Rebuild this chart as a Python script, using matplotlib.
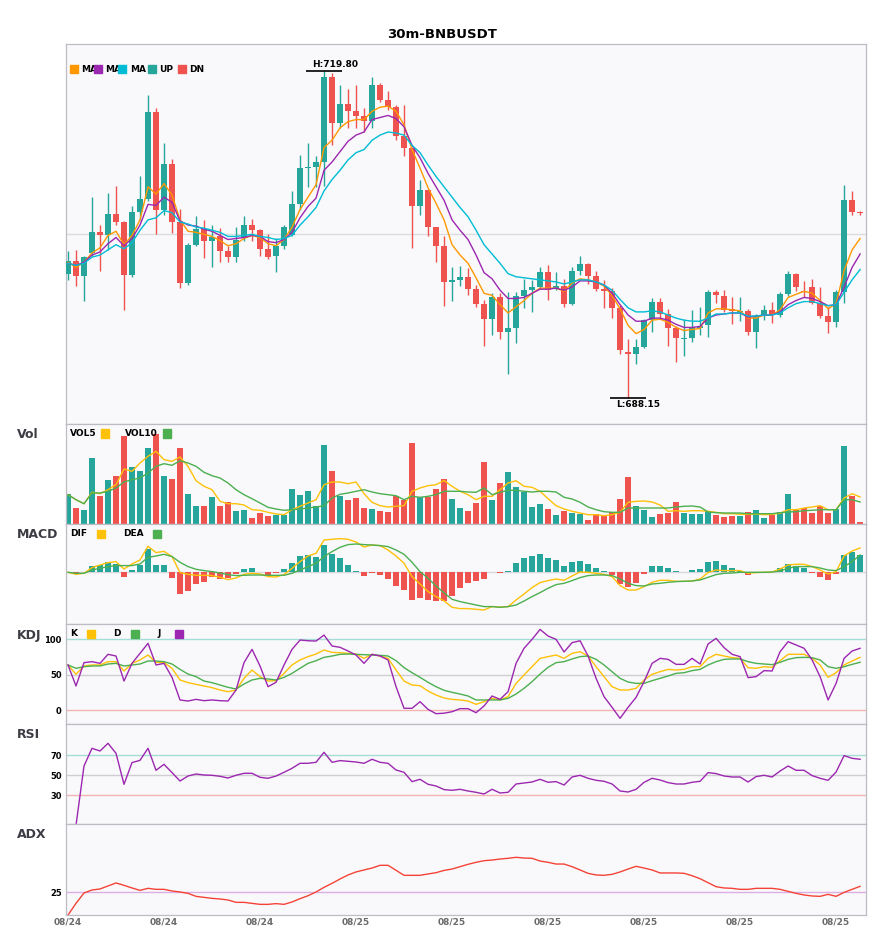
import matplotlib
matplotlib.use("Agg")
import matplotlib.pyplot as plt
from matplotlib.patches import Rectangle
import numpy as np

W, H = 885, 950
UP_C = "#26a69a"
DN_C = "#ef5350"

# ---- 30m candles ----
opens = [700.2, 701.4, 700.0, 702.2, 704.2, 703.9, 706.0, 705.2, 700.1, 706.2,
         707.4, 715.8, 706.4, 710.8, 705.2, 699.3, 703.0, 704.5, 703.4, 703.8,
         702.4, 701.8, 703.6, 704.9, 704.4, 702.6, 701.9, 702.9, 703.9, 706.9,
         710.4, 710.5, 711.0, 719.2, 714.8, 716.6, 715.9, 715.4, 715.0, 718.4,
         717.0, 716.3, 713.5, 712.4, 706.7, 708.3, 704.7, 702.9, 699.4, 699.6,
         699.9, 698.7, 697.3, 695.8, 697.9, 694.6, 694.9, 698.0, 698.6, 698.9,
         700.4, 698.7, 699.0, 697.3, 700.5, 701.1, 700.0, 698.7, 698.5, 696.9,
         692.6, 692.4, 693.1, 695.7, 697.5, 696.3, 694.9, 693.9, 694.0, 694.9,
         695.2, 698.4, 698.0, 696.8, 696.5, 696.6, 694.6, 696.1, 696.7, 696.2,
         698.2, 700.2, 698.5, 698.9, 697.4, 696.1, 695.5, 698.4, 707.3, 706.2]
highs = [702.4, 702.5, 701.9, 707.6, 704.9, 708.0, 708.7, 705.3, 706.7, 709.6,
         717.5, 716.2, 712.8, 711.3, 706.5, 703.2, 705.8, 705.4, 704.9, 704.6,
         702.9, 704.7, 705.8, 705.5, 704.5, 704.0, 703.6, 704.9, 708.2, 711.7,
         712.8, 711.6, 719.8, 719.6, 718.4, 718.1, 718.4, 716.2, 719.2, 718.6,
         717.9, 716.5, 716.5, 712.4, 709.3, 708.3, 704.7, 703.8, 700.8, 700.9,
         700.7, 699.1, 697.7, 698.3, 698.3, 698.4, 698.4, 699.7, 699.6, 700.8,
         701.0, 700.4, 699.7, 700.8, 701.9, 701.2, 700.5, 699.6, 698.8, 697.2,
         693.9, 693.9, 695.8, 697.8, 697.8, 696.8, 695.1, 695.8, 696.7, 697.0,
         698.6, 698.6, 698.6, 697.9, 697.9, 696.8, 696.3, 697.2, 697.5, 698.4,
         700.5, 700.3, 699.5, 699.7, 698.9, 697.0, 698.6, 708.8, 708.2, 706.3]
lows = [699.6, 699.0, 697.6, 701.9, 700.5, 702.5, 704.9, 696.7, 699.9, 705.4,
        707.2, 704.0, 705.9, 704.1, 698.8, 699.1, 702.9, 701.7, 700.8, 701.3,
        701.3, 701.3, 703.4, 703.4, 701.9, 701.6, 700.4, 702.6, 703.8, 706.4,
        708.6, 708.6, 708.7, 712.6, 714.3, 714.3, 714.3, 713.9, 714.3, 716.8,
        716.0, 713.1, 711.6, 702.7, 705.9, 703.8, 701.3, 697.1, 697.6, 699.0,
        698.1, 697.0, 693.2, 694.3, 693.9, 690.5, 693.5, 696.9, 696.5, 698.7,
        697.7, 698.6, 697.0, 697.2, 700.1, 699.2, 698.5, 696.9, 695.9, 692.4,
        688.15, 691.5, 693.0, 694.6, 695.8, 693.2, 691.7, 692.2, 693.6, 694.3,
        694.1, 697.4, 696.5, 695.3, 695.6, 694.3, 693.0, 695.7, 695.4, 696.0,
        698.0, 698.5, 697.9, 697.3, 695.9, 694.5, 695.0, 697.4, 705.9, 705.9]
closes = [701.4, 700.0, 701.8, 704.2, 703.9, 706.0, 705.2, 700.1, 706.2, 707.4,
          715.8, 706.4, 710.8, 705.2, 699.3, 703.0, 704.5, 703.4, 703.7, 702.4,
          701.8, 703.5, 704.9, 704.4, 702.6, 701.8, 702.9, 704.7, 706.9, 710.4,
          710.5, 711.0, 719.2, 714.8, 716.6, 715.9, 715.4, 715.0, 718.4, 717.0,
          716.3, 713.5, 712.4, 706.7, 708.3, 704.7, 702.9, 699.4, 699.6, 699.9,
          698.7, 697.3, 695.8, 697.9, 694.6, 694.9, 698.0, 698.6, 698.9, 700.4,
          698.6, 699.0, 697.3, 700.5, 701.1, 700.0, 698.7, 698.5, 696.9, 692.8,
          692.4, 693.1, 695.7, 697.5, 696.3, 694.9, 694.0, 694.0, 695.0, 695.1,
          698.4, 698.1, 696.7, 696.6, 696.6, 694.6, 696.1, 696.7, 696.2, 698.2,
          700.2, 698.9, 698.4, 697.4, 696.1, 695.5, 698.4, 707.3, 706.2, 706.1]

ma5 = [701.3, 700.8, 701.3, 702.2, 702.7, 703.9, 704.3, 703.0, 703.9, 705.4,
       708.6, 707.9, 708.9, 707.8, 705.4, 704.3, 704.2, 704.0, 703.8, 703.4,
       702.9, 703.1, 703.6, 703.9, 703.7, 703.1, 702.9, 703.5, 704.7, 706.4,
       707.6, 708.8, 712.4, 713.1, 714.3, 714.9, 715.1, 715.1, 715.9, 716.3,
       716.4, 715.9, 714.6, 712.2, 710.4, 708.5, 707.0, 705.4, 703.0, 702.0,
       701.2, 699.8, 698.3, 698.1, 697.2, 696.4, 697.0, 697.6, 698.3, 698.8,
       698.8, 698.8, 698.5, 699.3, 699.7, 699.6, 699.4, 699.0, 698.1, 696.8,
       695.2, 694.4, 694.8, 695.7, 695.8, 695.5, 695.0, 694.7, 694.8, 694.9,
       696.4, 696.8, 696.8, 696.7, 696.6, 695.9, 695.9, 696.2, 696.2, 696.7,
       697.9, 698.2, 698.5, 698.3, 697.6, 696.8, 697.3, 700.5, 702.5, 703.6]
ma10 = [701.2, 701.0, 701.3, 702.0, 702.3, 703.1, 703.7, 702.9, 703.6, 704.9,
        706.9, 706.8, 707.6, 707.1, 705.3, 704.9, 704.8, 704.5, 704.3, 703.9,
        703.5, 703.6, 703.7, 703.9, 703.8, 703.3, 703.2, 703.5, 704.2, 705.6,
        706.7, 707.5, 710.2, 711.0, 712.0, 713.0, 713.6, 713.9, 715.1, 715.3,
        715.5, 715.2, 714.4, 712.6, 711.4, 709.9, 708.6, 707.3, 705.4, 704.4,
        703.5, 702.0, 700.3, 699.7, 698.6, 697.8, 697.8, 697.9, 698.3, 698.7,
        698.7, 698.8, 698.6, 698.9, 699.5, 699.5, 699.4, 699.1, 698.3, 697.2,
        696.2, 695.6, 695.6, 695.9, 695.9, 695.7, 695.3, 695.0, 695.0, 695.1,
        695.9, 696.2, 696.3, 696.4, 696.4, 696.0, 696.1, 696.2, 696.2, 696.5,
        697.2, 697.6, 697.9, 697.8, 697.5, 697.1, 697.2, 698.9, 700.8, 702.1]
ma20 = [701.2, 701.0, 701.2, 701.8, 702.0, 702.5, 703.0, 702.6, 703.2, 704.4,
        705.4, 705.6, 706.3, 706.1, 705.2, 705.0, 704.7, 704.6, 704.4, 704.2,
        703.8, 703.8, 703.9, 704.0, 703.8, 703.7, 703.5, 703.6, 703.9, 704.9,
        705.7, 706.6, 708.2, 709.3, 710.2, 711.2, 711.9, 712.2, 713.1, 713.6,
        713.9, 713.8, 713.6, 712.6, 711.9, 710.7, 709.6, 708.6, 707.6, 706.6,
        705.7, 704.4, 703.0, 702.1, 701.2, 700.2, 699.9, 699.8, 699.7, 699.6,
        699.5, 699.4, 699.2, 699.4, 699.6, 699.6, 699.4, 699.1, 698.6, 697.7,
        696.9, 696.5, 696.5, 696.6, 696.5, 696.2, 695.9, 695.7, 695.6, 695.6,
        695.9, 696.3, 696.3, 696.4, 696.4, 696.1, 696.1, 696.2, 696.2, 696.4,
        696.9, 697.3, 697.5, 697.5, 697.3, 697.1, 697.2, 698.4, 699.6, 700.6]

# ---- volume (relative units) ----
vol = [30.3, 16.3, 13.7, 66.3, 27.7, 44.3, 48.3, 88.3, 57.3, 53.3,
       76.3, 90.3, 48.3, 45.3, 76.3, 30.3, 18.3, 18.3, 27.3, 18.3,
       22.3, 13.3, 14.3, 6.3, 11.3, 8.3, 9.3, 9.3, 35.3, 29.3,
       33.3, 18.3, 79.3, 53.3, 28.3, 24.3, 26.3, 16.3, 15.3, 13.3,
       12.3, 28.3, 24.3, 81.3, 27.3, 27.3, 35.3, 45.3, 25.3, 16.3,
       13.3, 21.3, 62.3, 24.3, 41.3, 52.3, 37.3, 32.3, 17.3, 20.3,
       15.3, 9.3, 13.3, 11.3, 10.3, 4.3, 10.3, 8.3, 12.3, 25.3,
       47.3, 18.3, 14.3, 7.3, 10.3, 11.3, 22.3, 11.3, 10.3, 10.3,
       13.3, 9.3, 7.3, 8.3, 8.3, 12.3, 14.3, 6.3, 9.3, 12.3,
       30.3, 14.3, 16.3, 11.3, 18.3, 11.3, 15.3, 78.3, 28.3, 2.3]
vol5 = [29.3, 24.3, 20.3, 31.7, 30.3, 34.3, 39.3, 55, 52.7, 61,
        67.7, 72.7, 64.3, 62.7, 67, 57.7, 43.3, 37.7, 34.3, 22.7,
        20.3, 20.3, 19, 14.3, 13.7, 11.7, 10, 9.3, 14.3, 17.7,
        21, 24.3, 39.3, 42, 42, 40.3, 42, 30.3, 21.7, 18.3,
        17, 17.7, 18.3, 32.7, 36, 38.3, 39.3, 43.5, 37.7, 32.7,
        29.3, 24.3, 27.7, 27.7, 34.3, 41, 43.3, 37.7, 36.7, 32.7,
        25.3, 18.3, 15, 12.7, 11, 9.3, 9.3, 8.3, 9.3, 11.7,
        21.7, 22.7, 23, 22, 19, 12.7, 13.3, 12.7, 13.3, 13.3,
        12.7, 11.7, 10.3, 10.3, 9.7, 9.7, 10, 9.3, 9.7, 10.7,
        14.3, 14.3, 16, 17, 18.3, 14.3, 14.3, 26, 30.3, 27]
vol10 = [29.3, 24.3, 20.3, 31, 31, 32.7, 36, 42, 44.3, 46,
         51, 57.7, 60.3, 58.7, 63.3, 61, 57.7, 51.7, 48.3, 46,
         41, 34.3, 29.3, 25.3, 21, 16.7, 15, 13.7, 14.3, 15,
         16, 17, 18.3, 26, 29.7, 31, 32.7, 34.3, 32, 30.3,
         29.3, 28.3, 24.3, 27.7, 26.7, 27.7, 29.3, 32.7, 32.7, 32.7,
         32, 31.7, 36, 29.3, 31.7, 33.7, 33.7, 32.7, 32, 32.7,
         32.7, 32, 26.7, 25, 21.7, 17, 14.3, 12.3, 11.7, 11.7,
         16, 16, 16, 16, 16, 16, 17, 17.7, 18, 17,
         12, 11.3, 11, 11, 11, 10.3, 10.3, 10.3, 10.3, 11.3,
         12, 12.3, 13.3, 13.7, 14.3, 14.3, 14.3, 24.3, 24.3, 22]

# ---- MACD (relative units) ----
macd_hist = [0, -1.7, 0, 6.3, 7.3, 10.3, 8.3, -4.3, 2.3, 7.7,
             23.7, 7.3, 7.3, -5.3, -21.3, -18.3, -11.3, -9.3, -4.3, -6.3,
             -6, -1.3, 3.3, 4.3, 0.3, -2.3, -0.7, 3.3, 9.3, 16.3,
             17.3, 15.3, 27.3, 18.3, 14.3, 7.3, 1.3, -3.3, -0.7, -2.3,
             -6.3, -13.3, -17.3, -27.3, -25.3, -27.3, -28.3, -28.3, -23.3, -15.3,
             -10.3, -8.3, -6.3, 0, -0.7, 1.3, 9.3, 14.3, 16.3, 18.3,
             14.3, 12.3, 6.3, 10.3, 11.3, 8.3, 4.3, 1.3, -2.7, -11.3,
             -14.3, -10.3, -1.3, 6.3, 6.3, 4.3, 1.3, 0, 2.3, 3.3,
             10.3, 11.3, 7.3, 4.3, 1.7, -2.3, -1, 0, 0, 4.3,
             8.3, 6.3, 4.3, -0.7, -4.3, -7.3, -1.3, 17.3, 20.3, 17.3]
dif = [0, -2, -1, 4.7, 7.3, 9.7, 10.7, 3.3, 8.3, 12.3,
       26, 19.7, 21, 15.7, -0.3, -2, -3, -3, -3.3, -5,
       -7.3, -5.7, -2, -1, -1.7, -4.3, -4.7, -2.3, 4, 10.7,
       16.3, 19, 32.3, 33, 33.7, 33, 30.3, 25.3, 27.3, 26.7,
       22.3, 16.3, 9, -4.3, -11.7, -19.3, -24.3, -28.5, -35, -36.3,
       -36.3, -37, -37.7, -34.3, -34.7, -34.3, -27.7, -21.7, -15.3, -10.3,
       -8.3, -6.7, -8, -3.7, 0.3, 0, -1, -2, -4.3, -13.3,
       -17.7, -17.7, -14.3, -10, -8, -8, -9, -9, -8.7, -6.7,
       -0.3, 2.3, 1.7, 1.7, 1.7, -1, -0.3, 0, 0.3, 3.3,
       7.3, 8, 8, 5.7, 2.3, -1.7, 0.7, 16.3, 21.3, 24.3]
dea = [0, -1, -1, 2.3, 4, 5.7, 6.7, 6.7, 6.7, 8.3,
       15, 16.3, 18, 15.7, 10, 5.7, 3, 1.7, 0.7, -0.7,
       -2.3, -3.3, -3, -2.7, -2.7, -3, -3, -3, -1, 2.3,
       5.7, 9, 15.7, 20.7, 25, 27.7, 28.3, 27.7, 27.3, 26.7,
       25.7, 22.3, 18, 10, 0.7, -6, -13.7, -20.5, -27, -29.3,
       -31, -32.7, -34.3, -34.3, -35, -34.3, -32.7, -28.7, -24.3, -20.3,
       -16, -12.3, -11, -8.3, -5.3, -3.3, -2.7, -2.7, -3.3, -6.7,
       -11, -13.3, -13.7, -11.7, -11, -10, -9.3, -9, -8.7, -7.7,
       -5, -2.3, -1, -0.7, 0, 0, 0, 0, 0.3, 1.3,
       4, 5.7, 5.7, 5.7, 4.3, 2.3, 1.7, 5.7, 10.7, 17.3]

# ---- KDJ ----
k_line = [63.7, 50.5, 62.3, 63.7, 63.7, 68.4, 68.4, 55.2, 66, 70.8,
          77.8, 67.5, 67, 59, 42.5, 38.7, 36.3, 34, 31.6, 28.3,
          25.9, 28.3, 44.8, 56.6, 47.2, 41, 41.5, 51.9, 63.7, 70.8,
          75.5, 79.2, 84.9, 81.6, 81.1, 80.2, 79.2, 73.1, 78.8, 76.4,
          73.1, 56.6, 41, 35.4, 34.4, 26.9, 21.2, 17, 15.1, 14.2,
          12.7, 8, 11.8, 16.5, 14.2, 18.9, 37.7, 49.5, 61.3, 73.1,
          75.5, 77.8, 73.1, 80.2, 82.5, 76.4, 61.3, 47.2, 33, 28.3,
          28.3, 30.7, 42.5, 50.5, 54.2, 57.5, 56.6, 57.5, 61.3, 61.3,
          73.1, 78.8, 76.4, 74.1, 73.1, 59.9, 59, 61.3, 60.4, 69.8,
          78.8, 78.8, 78.8, 73.1, 63.7, 46.2, 52.8, 63.7, 69.3, 74.5]
d_line = [63.7, 59, 61.3, 62.3, 62.3, 65.1, 66, 62.3, 63.7, 65.1,
          69.3, 69.3, 68.4, 65.1, 57.5, 50.9, 47.2, 41, 38.7, 35.4,
          32.1, 29.7, 36.8, 42.5, 44.8, 43.9, 42.5, 46.2, 51.9, 59,
          66, 69.8, 74.5, 76.4, 78.8, 79.2, 78.8, 78.3, 77.8, 77.4,
          76.4, 69.8, 59.9, 52.8, 46.2, 39.2, 33, 27.9, 25, 22.6,
          19.8, 14.2, 14.2, 14.2, 14.2, 16.5, 22.6, 30.7, 40.1, 50.9,
          60.4, 67, 68.4, 72.2, 75.5, 76.4, 71.7, 63.7, 54.2, 44.8,
          39.6, 37.7, 37.7, 41.5, 44.8, 48.1, 51.9, 52.8, 55.7, 57.5,
          63.7, 68.4, 71.7, 72.2, 72.2, 68.4, 66, 65.1, 64.2, 67.5,
          71.7, 74.1, 74.5, 74.1, 70.8, 61.3, 59, 61.3, 64.6, 67.5]
j_line = [63.7, 34, 67, 68.4, 66, 78.8, 76.4, 41, 66, 80.2,
          94.3, 63.7, 66, 46.2, 14.2, 12.7, 15.1, 13.2, 14.2, 13.2,
          12.7, 28.3, 67, 85.8, 62.3, 33, 39.2, 63.7, 85.8, 99,
          98, 97.6, 106, 90.6, 88.7, 83.5, 77.8, 66, 78.8, 76.4,
          70.8, 33, 2.4, 2.4, 11.8, 0.9, -5.2, -4.5, -2.4, 1.9,
          1.9, -3.8, 5.7, 19.8, 15.1, 25.9, 66, 87.3, 100, 114,
          104.7, 100, 82.1, 95.3, 98, 76.4, 44.8, 18.9, 3.8, -11.8,
          3.8, 17.9, 40.1, 66, 73.1, 71.7, 64.6, 64.6, 73.1, 65.1,
          93.4, 101.4, 88.2, 78.8, 75.5, 45.8, 47.2, 55.7, 55.2, 82.5,
          96.7, 92, 87.3, 70.8, 47.2, 14.2, 37.7, 73.1, 83.5, 87.3]

# ---- RSI ----
rsi = [np.nan, 0, 59.3, 77, 74.3, 82, 72, 41, 62.7, 65,
       77, 55, 61, 52.7, 44.3, 49.3, 51.3, 50.3, 50, 49,
       47.3, 50, 52, 52, 48, 47, 49.3, 53, 57, 62,
       62, 63, 73, 63, 64.7, 64, 63.3, 62, 66, 63,
       62, 55.3, 53, 43.7, 46, 41, 39.3, 35.7, 35, 36,
       34.3, 33, 31.3, 36, 32.3, 33, 41.3, 42.3, 43.3, 46,
       43, 43.7, 40.3, 48.3, 50, 47, 45, 44, 41.3, 34.3,
       33.3, 36, 43, 47, 45.3, 42.7, 41.3, 41.3, 43, 44,
       52.7, 51.7, 49.3, 48.3, 48.3, 43.3, 48.7, 50, 48.3, 54.3,
       59.3, 55, 55, 49.7, 47, 45, 53.3, 69.7, 67, 66]

# ---- ADX ----
adx = [0, 12.8, 24.2, 27.5, 28.6, 31.9, 35.2, 32.6, 29.7, 27.1,
       29.3, 28.2, 28.2, 26.4, 25.3, 23.8, 20.5, 19.4, 18.3, 17.6,
       16.5, 13.9, 13.9, 12.8, 11.7, 11.7, 12.5, 11.7, 14.3, 17.9,
       21.2, 25.3, 30.4, 34.8, 39.6, 44, 47.3, 49.5, 51.6, 54.6,
       54.6, 49.1, 43.6, 43.6, 43.6, 45.1, 46.5, 49, 50.5, 53.1,
       55.7, 57.9, 59.7, 60.4, 61.5, 62.3, 63.4, 62.6, 62.3, 59.3,
       57.9, 56, 56, 53.1, 49.5, 45.8, 44, 43.6, 44.7, 47.3,
       50.5, 53.5, 51.6, 49.5, 46.2, 46.2, 46.2, 45.8, 43.2, 39.9,
       35.5, 31.1, 29.7, 29.3, 28.2, 28.2, 29.3, 29.3, 29.3, 28.2,
       26, 23.8, 22, 20.9, 20.5, 22.7, 20.5, 24.9, 28.2, 31.5]

tick_idx = [0, 12, 24, 36, 48, 60, 72, 84, 96]
tick_lbl = ["08/24", "08/24", "08/24", "08/25", "08/25", "08/25", "08/25", "08/25", "08/25"]

o = np.array(opens); c = np.array(closes)
h = np.array(highs); l = np.array(lows)
x = np.arange(len(c))
up = c >= o
cols = np.where(up, UP_C, DN_C)

fig = plt.figure(figsize=(W / 100, H / 100), dpi=100)


def panel(top, bottom):
    ax = fig.add_axes([66 / W, 1 - bottom / H, 799.7 / W, (bottom - top) / H])
    ax.set_facecolor("#f9f9fb")
    for s in ax.spines.values():
        s.set_color("#bcbcc4")
        s.set_linewidth(0.9)
    ax.set_xlim(-0.25, 99.7)
    ax.set_xticks([])
    ax.set_yticks([])
    ax.tick_params(length=0, labelsize=6, pad=3)
    return ax


def ftext(px, py, s, **kw):
    fig.text(px / W, 1 - py / H, s, **kw)


def fsquare(px, py, color):
    fig.add_artist(Rectangle((px / W, 1 - (py + 4) / H), 8 / W, 8 / H,
                             color=color, transform=fig.transFigure, zorder=5))


def bold_ticks(ax, vals):
    ax.set_yticks(vals)
    ax.set_yticklabels([str(v) for v in vals], fontweight="bold", fontsize=6)


# main price panel
ax0 = panel(44, 424)
ax0.set_ylim(685.66, 722.41)
ax0.axhline(704, color="#dcdce0", lw=1, zorder=0)
ax0.vlines(x, l, h, colors=cols, lw=1, zorder=2)
body = np.maximum(np.abs(c - o), 0.08)
ax0.bar(x, body, bottom=np.minimum(o, c), width=0.75, color=cols, zorder=3)
ax0.plot(x, ma5, color="#ff9800", lw=1, zorder=4)
ax0.plot(x, ma10, color="#9c27b0", lw=1, zorder=4)
ax0.plot(x, ma20, color="#00bcd4", lw=1, zorder=4)
ih = int(np.argmax(h)); il = int(np.argmin(l))
ax0.hlines(h[ih], ih - 2.25, ih + 2.25, color="black", lw=1.2)
ax0.text(ih - 1.5, h[ih] + 0.2, "H:%.2f" % h[ih], fontsize=6.5, fontweight="bold", va="bottom")
ax0.hlines(l[il], il - 2.25, il + 2.25, color="black", lw=1.2)
ax0.text(il - 1.5, l[il] - 0.2, "L:%.2f" % l[il], fontsize=6.5, fontweight="bold", va="top")

# volume
ax1 = panel(424, 524)
ax1.set_ylim(0, 100)
ax1.bar(x, vol, width=0.75, color=cols)
ax1.plot(x, vol5, color="#ffc107", lw=1)
ax1.plot(x, vol10, color="#4caf50", lw=1)

# MACD
ax2 = panel(524, 624)
ax2.set_ylim(-51.7, 48.3)
ax2.axhline(0, color="#d8d8dc", lw=1, zorder=0)
hc = np.where(np.array(macd_hist) >= 0, UP_C, DN_C)
ax2.bar(x, macd_hist, width=0.75, color=hc)
ax2.plot(x, dif, color="#ffc107", lw=1)
ax2.plot(x, dea, color="#4caf50", lw=1)

# KDJ
ax3 = panel(624, 724)
ax3.set_ylim(-19.8, 121.7)
ax3.axhline(100, color="#a6dcd6", lw=1, zorder=0)
ax3.axhline(50, color="#cfcfd2", lw=1, zorder=0)
ax3.axhline(0, color="#f6b3b3", lw=1, zorder=0)
ax3.plot(x, k_line, color="#ffc107", lw=1)
ax3.plot(x, d_line, color="#4caf50", lw=1)
ax3.plot(x, j_line, color="#9c27b0", lw=1)
bold_ticks(ax3, [0, 50, 100])

# RSI
ax4 = panel(724, 824)
ax4.set_ylim(1.3, 101.3)
ax4.axhline(70, color="#a6dcd6", lw=1, zorder=0)
ax4.axhline(50, color="#cfcfd2", lw=1, zorder=0)
ax4.axhline(30, color="#f6b3b3", lw=1, zorder=0)
ax4.plot(x, rsi, color="#9c27b0", lw=1)
bold_ticks(ax4, [30, 50, 70])

# ADX
ax5 = panel(824, 915)
ax5.set_ylim(0, 100)
ax5.axhline(25, color="#dcaee6", lw=1, zorder=0)
ax5.plot(x, adx, color="#f44336", lw=1)
bold_ticks(ax5, [25])
ax5.set_xticks(tick_idx)
ax5.set_xticklabels(tick_lbl, fontsize=6.5, fontweight="bold", color="#6a6a6a")
ax5.tick_params(axis="x", pad=2)

# titles / labels
ftext(442.5, 35, "30m-BNBUSDT", ha="center", va="center", fontsize=9.5, fontweight="bold")
for name, py in [("Vol", 435), ("MACD", 535), ("KDJ", 635), ("RSI", 735), ("ADX", 835)]:
    ftext(17, py, name, ha="left", va="center", fontsize=9, fontweight="bold", color="#3c3c44")

# legends drawn as small squares + labels
lg = dict(ha="left", va="center", fontsize=6.5, fontweight="bold")
for sx, col in [(70, "#ff9800"), (94, "#9c27b0"), (118, "#00bcd4"), (148, UP_C), (178, DN_C)]:
    fsquare(sx, 69, col)
for tx, s in [(81, "MA"), (105, "MA"), (130, "MA"), (159, "UP"), (189, "DN")]:
    ftext(tx, 69, s, **lg)

ftext(70, 433.5, "VOL5", **lg); fsquare(101, 433.5, "#ffc107")
ftext(125, 433.5, "VOL10", **lg); fsquare(163, 433.5, "#4caf50")
ftext(70, 533.5, "DIF", **lg); fsquare(97, 533.5, "#ffc107")
ftext(123, 533.5, "DEA", **lg); fsquare(153, 533.5, "#4caf50")
ftext(70, 633.5, "K", **lg); fsquare(87, 633.5, "#ffc107")
ftext(113, 633.5, "D", **lg); fsquare(131, 633.5, "#4caf50")
ftext(157, 633.5, "J", **lg); fsquare(175, 633.5, "#9c27b0")

fig.savefig("out.png", dpi=100)
